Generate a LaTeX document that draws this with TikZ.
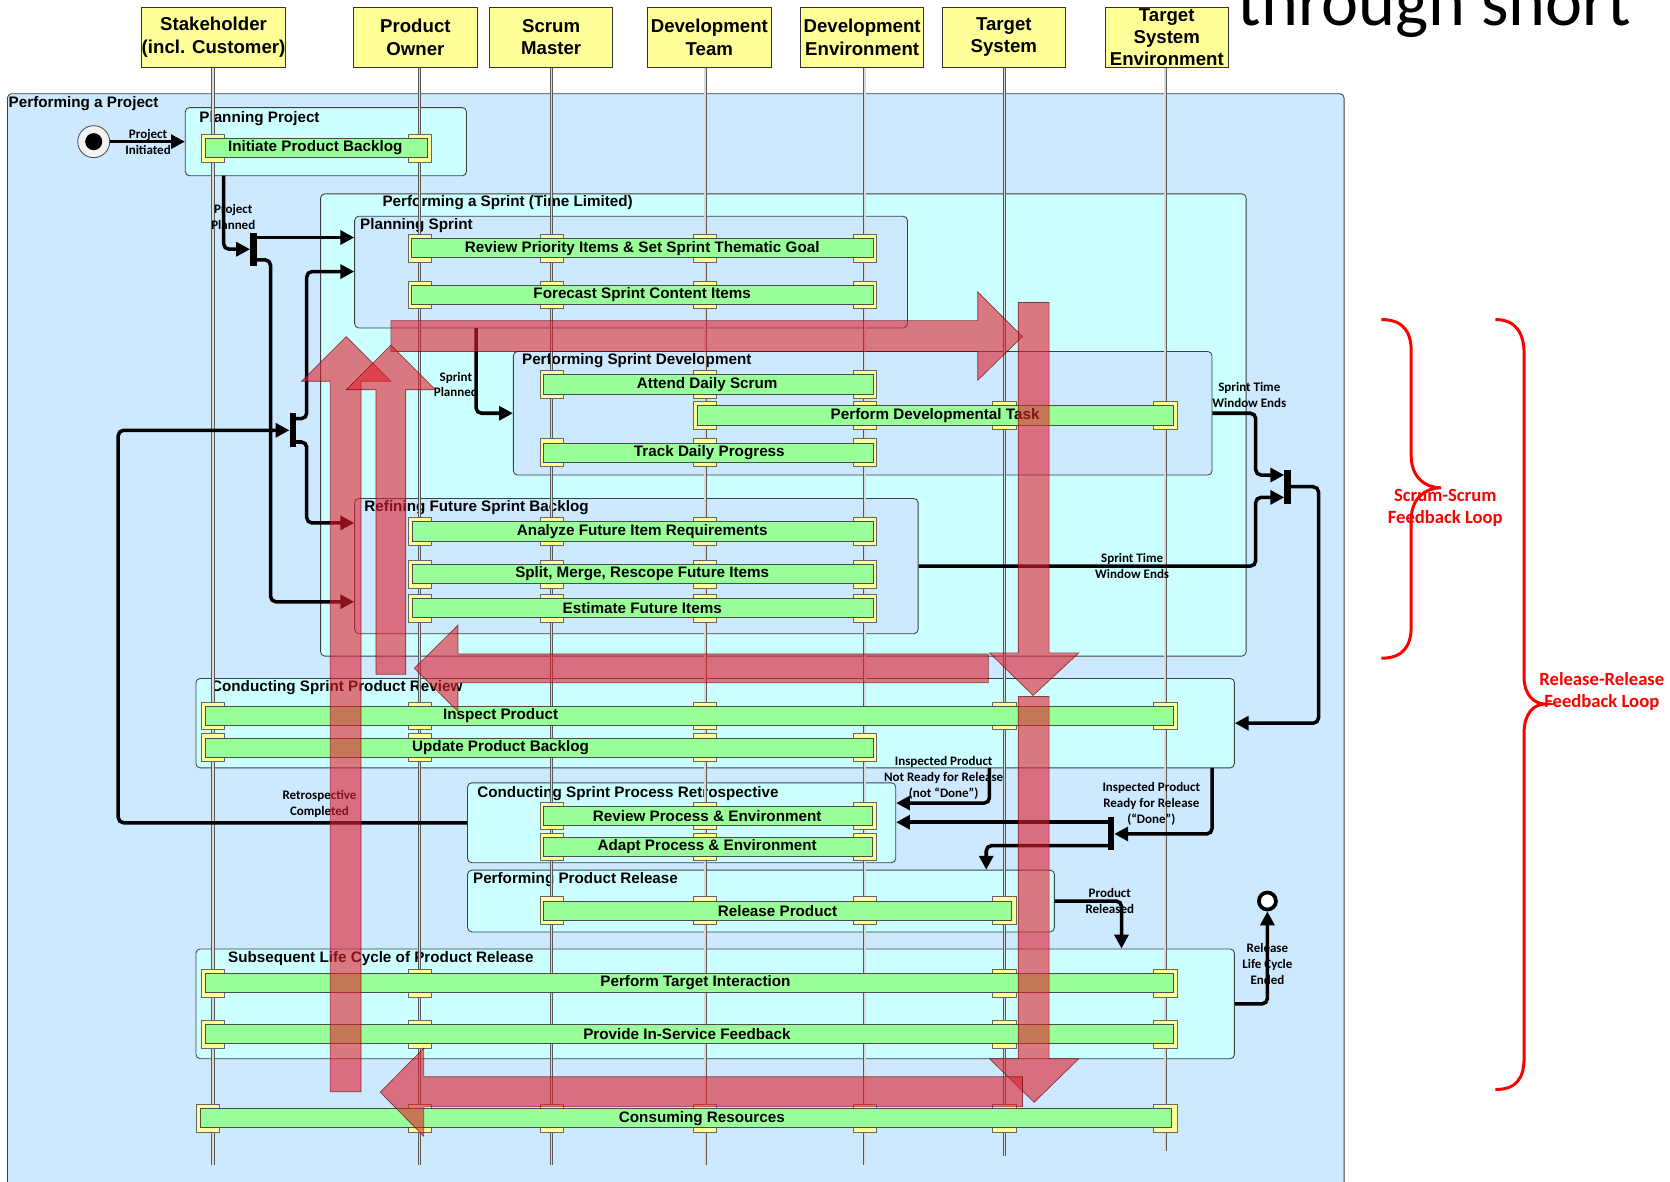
\documentclass[tikz,border=0pt]{standalone}
\usepackage{fontspec}
\setmainfont{Liberation Sans}
\newfontfamily\calib{Carlito}
\usetikzlibrary{arrows.meta,fit}

\definecolor{projblue}{RGB}{204,233,255}
\definecolor{phasecyan}{RGB}{204,255,255}
\definecolor{actgreen}{RGB}{153,255,153}
\definecolor{roleyellow}{RGB}{255,255,153}
\definecolor{loopred}{RGB}{225,30,45}

% one activity bar: name, y, lifelines touched, left x, right x, text x, text
\newcommand\actbar[7]{%
  \foreach \lx in {#3}{\draw[tab] ({\lx-11},{#2-13}) rectangle ({\lx+11},{#2+13});}%
  \draw[bar] (#4,{#2-9}) rectangle (#5,{#2+9});%
  \node[bartext] (#1) at (#6,#2) {#7};%
}

\begin{document}
\begin{tikzpicture}[x=1pt,y=-1pt,
  rolebox/.style={draw=black!80, fill=roleyellow, line width=0.9pt, inner sep=0pt},
  roletext/.style={align=center, inner sep=0pt, font=\bfseries\fontsize{17.5}{21}\selectfont},
  phase/.style={draw=black!75, line width=0.8pt, rounded corners=4pt, inner sep=0pt},
  phaselabel/.style={anchor=west, inner sep=0pt, font=\bfseries\fontsize{14.3}{17}\selectfont},
  life/.style={draw=black!65, line width=0.8pt, double=black!15, double distance=1.3pt},
  tab/.style={draw=black!60, fill=roleyellow, line width=0.7pt},
  bar/.style={draw=black!70, fill=actgreen, line width=0.8pt},
  bartext/.style={inner sep=0pt, font=\bfseries\fontsize{14.3}{17}\selectfont},
  flow/.style={line width=3.3pt, rounded corners=5pt, -{Triangle[length=13pt,width=13pt]}},
  forkbar/.style={fill=black, minimum width=6pt, inner sep=0pt, draw=none},
  note/.style={align=center, inner sep=0pt, font=\calib\bfseries\fontsize{12.2}{15}\selectfont},
  loop/.style={fill=loopred, fill opacity=0.6, draw=black!60!red, draw opacity=0.7, line width=0.6pt},
  brace/.style={draw=red, line width=2.8pt},
  bracetext/.style={align=center, inner sep=0pt, text=red, font=\calib\bfseries\fontsize{17.5}{21}\selectfont}
]
\clip (0,0) rectangle (1568,1109);
\fill[white] (0,0) rectangle (1568,1109);

% ---------- nested phases ----------
\node[phase, fill=projblue, fit={(7,88) (1262,1130)}] (proj) {};
\node[phase, fill=phasecyan, fit={(174,101) (438,165)}] (pp) {};
\node[phase, fill=phasecyan, fit={(301,182) (1170,616)}] (spr) {};
\node[phase, fill=projblue, fit={(333,203) (852,308)}] (ps) {};
\node[phase, fill=projblue, fit={(482,330) (1138,446)}] (psd) {};
\node[phase, fill=projblue, fit={(333,468) (862,595)}] (rf) {};
\node[phase, fill=phasecyan, fit={(184,637) (1159,721)}] (rv) {};
\node[phase, fill=phasecyan, fit={(439,735) (841,810)}] (rt) {};
\node[phase, fill=phasecyan, fit={(439,817) (990,875)}] (rl) {};
\node[phase, fill=phasecyan, fit={(184,891) (1159,994)}] (sl) {};

\node[phaselabel] (lproj) at (8,97) {Performing a Project};
\node[phaselabel] (lpp) at (187,111) {Planning Project};
\node[phaselabel] (lspr) at (359,190) {Performing a Sprint (Time Limited)};
\node[phaselabel] (lps) at (338,212) {Planning Sprint};
\node[phaselabel] (lpsd) at (490,339) {Performing Sprint Development};
\node[phaselabel] (lrf) at (342,477) {Refining Future Sprint Backlog};
\node[phaselabel] (lrv) at (198,646) {Conducting Sprint Product Review};
\node[phaselabel] (lrt) at (448,745) {Conducting Sprint Process Retrospective};
\node[phaselabel] (lrl) at (444,826) {Performing Product Release};
\node[phaselabel] (lsl) at (214,900) {Subsequent Life Cycle of Product Release};

% ---------- roles and lifelines ----------
\node[rolebox, fit={(132.5,7) (268.5,63)}] (hS) {};
\node[rolebox, fit={(332,7) (448,63)}] (hP) {};
\node[rolebox, fit={(460,7) (575,63)}] (hM) {};
\node[rolebox, fit={(608,7) (724,63)}] (hT) {};
\node[rolebox, fit={(752,7) (867,63)}] (hE) {};
\node[rolebox, fit={(885,7) (1000,63)}] (hY) {};
\node[rolebox, fit={(1038,7) (1153,63)}] (hZ) {};

\coordinate (lS) at (200,1094);
\coordinate (lP) at (394,1094);
\coordinate (lM) at (518,1094);
\coordinate (lT) at (662,1094);
\coordinate (lE) at (812,1094);
\coordinate (lY) at (943,1085);
\coordinate (lZ) at (1094,1081);
\foreach \l/\h in {lS/hS,lP/hP,lM/hM,lT/hT,lE/hE,lY/hY,lZ/hZ}
  \draw[life] (\h.south -| \l) -- (\l);

\node[roletext] (tS) at (hS) {Stakeholder\\(incl. Customer)};
\node[roletext] (tP) at (hP) {Product\\Owner};
\node[roletext] (tM) at (hM) {Scrum\\Master};
\node[roletext] (tT) at (hT) {Development\\Team};
\node[roletext] (tE) at (hE) {Development\\Environment};
\node[roletext] (tY) at (hY) {Target\\System};
\node[roletext] (tZ) at (hZ) {Target\\System\\Environment};

% ---------- activities ----------
\actbar{a1}{139}{200,394}{193}{401}{296}{Initiate Product Backlog}
\actbar{a2}{233}{394,518,662,812}{386}{820}{603}{Review Priority Items \& Set Sprint Thematic Goal}
\actbar{a3}{277}{394,518,662,812}{386}{820}{603}{Forecast Sprint Content Items}
\actbar{a4}{361}{518,662,812}{510}{820}{664}{Attend Daily Scrum}
\actbar{a5}{390}{662,812,943,1094}{655}{1102}{878}{Perform Developmental Task}
\actbar{a6}{425}{518,662,812}{510}{820}{666}{Track Daily Progress}
\actbar{a7}{499}{394,518,662,812}{387}{820}{603}{Analyze Future Item Requirements}
\actbar{a8}{539}{394,518,662,812}{387}{820}{603}{Split, Merge, Rescope Future Items}
\actbar{a9}{571}{394,518,662,812}{387}{820}{603}{Estimate Future Items}
\actbar{a10}{672}{200,394,662,943,1094}{193}{1102}{470}{Inspect Product}
\actbar{a11}{702}{200,394,662,812}{193}{820}{470}{Update Product Backlog}
\actbar{a12}{766}{518,662,812}{510}{819}{664}{Review Process \& Environment}
\actbar{a13}{795}{518,662,812}{510}{819}{664}{Adapt Process \& Environment}
\actbar{a14}{855}{518,662,812,943}{510}{950}{730}{Release Product}
\actbar{a15}{923}{200,394,943,1094}{193}{1102}{653}{Perform Target Interaction}
\actbar{a16}{971}{200,394,943,1094}{193}{1102}{645}{Provide In-Service Feedback}
\actbar{a17}{1050}{195,394,518,662,812,943,1094}{188}{1100}{659}{Consuming Resources}

% ---------- control flow ----------
\node[circle, draw=black!70, fill=black!5, line width=0.8pt, minimum size=30pt, inner sep=0pt] (st) at (88,133) {};
\fill (st.center) circle (8pt);
\draw[flow] (st.east) -- (pp.west);
\node[note] (nInit) at (139,133) {Project\\Initiated};

\node[forkbar, minimum height=31pt] (f1) at (238,234) {};
\node[forkbar, minimum height=32pt] (f2) at (275,404) {};
\node[forkbar, minimum height=32pt] (f3) at (1209,457) {};
\node[forkbar, minimum height=31pt] (f4) at (1043,783) {};

\coordinate (ppout) at (210,165);
\draw[flow] (ppout) |- (f1.west);
\node[note] (nPlan) at (219,204) {Project\\Planned};
\coordinate (f1a) at (238,223);
\draw[flow] (f1a) -- (f1a -| ps.west);
\coordinate (f1b) at (238,244);
\coordinate (f1c) at (254,565);
\draw[flow] (f1b) -| (f1c) -- (f1c -| rf.west);

\coordinate (rback) at (111,404);
\draw[flow] (rt.west) -| (rback) -- (f2.west);
\node[note] (nRetro) at (300,755) {Retrospective\\Completed};
\coordinate (f2a) at (275,393);
\coordinate (f2b) at (288,255);
\draw[flow] (f2a) -| (f2b) -- (f2b -| ps.west);
\coordinate (f2c) at (275,415);
\coordinate (f2d) at (288,491);
\draw[flow] (f2c) -| (f2d) -- (f2d -| rf.west);

\coordinate (psout) at (447,308);
\draw[flow] (psout) |- (psd.west);
\node[note] (nSpr) at (428,361) {Sprint\\Planned};

\coordinate (k3a) at (1179,446);
\draw[flow] (psd.east) -| (k3a) -- (k3a -| f3.west);
\coordinate (k3b) at (1179,467);
\draw[flow] (rf.east) -| (k3b) -- (k3b -| f3.west);
\node[note] (nEnd1) at (1173,371) {Sprint Time\\Window Ends};
\node[note] (nEnd2) at (1063,531) {Sprint Time\\Window Ends};
\coordinate (f3o) at (1209,457);
\coordinate (k3c) at (1238,679);
\draw[flow] (f3o) -| (k3c) -- (k3c -| rv.east);

\coordinate (nr0) at (929,721);
\coordinate (nr1) at (929,754);
\draw[flow] (nr0) -- (nr1) -- (nr1 -| rt.east);
\node[note] (nNot) at (886,730) {Inspected Product\\Not Ready for Release\\(not “Done”)};

\coordinate (rd0) at (1138,721);
\draw[flow] (rd0) |- (f4.east);
\node[note] (nDone) at (1081,755) {Inspected Product\\Ready for Release\\(“Done”)};
\coordinate (f4a) at (1043,772);
\draw[flow] (f4a) -- (f4a -| rt.east);
\coordinate (f4b) at (1043,794);
\coordinate (f4c) at (926,794);
\draw[flow] (f4b) -- (f4c) -- (f4c |- rl.north);

\coordinate (prk) at (1053,846);
\draw[flow] (rl.east) -- (prk) -- (prk |- sl.north);
\node[note] (nRel) at (1042,846) {Product\\Released};

\node[circle, draw=black, line width=3.5pt, fill=white, minimum size=16pt, inner sep=0pt] (en) at (1190,846) {};
\draw[flow] (sl.east) -| (en.south);
\node[note] (nLife) at (1190,905) {Release\\Life Cycle\\Ended};

% ---------- feedback loop arrows ----------
\filldraw[loop] (367,301) -- (918,301) -- (918,274) -- (960,316) -- (918,357) -- (918,330) -- (367,330) -- cycle;
\filldraw[loop] (956,284) -- (985,284) -- (985,613) -- (1013,613) -- (970,653) -- (929,613) -- (956,613) -- cycle;
\filldraw[loop] (928,614) -- (430,614) -- (430,587) -- (389,627.5) -- (430,668) -- (430,641) -- (928,641) -- cycle;
\filldraw[loop] (310,1025) -- (310,358) -- (283,358) -- (325,316) -- (367,358) -- (339,358) -- (339,1025) -- cycle;
\filldraw[loop] (353,633) -- (353,366) -- (325,366) -- (367,324) -- (409,366) -- (381,366) -- (381,633) -- cycle;
\filldraw[loop] (956,654) -- (985,654) -- (985,994) -- (1013,994) -- (971,1035) -- (929,994) -- (956,994) -- cycle;
\filldraw[loop] (960,1011) -- (398,1011) -- (398,984) -- (357,1025.5) -- (398,1067) -- (398,1039) -- (960,1039) -- cycle;

% ---------- loop braces ----------
\draw[brace] (1297,300) .. controls (1318,300) and (1325,312) .. (1325,330) -- (1325,428)
  .. controls (1325,448) and (1338,458) .. (1353,458)
  .. controls (1338,458) and (1325,468) .. (1325,488) -- (1325,588)
  .. controls (1325,606) and (1318,618) .. (1297,618);
\node[bracetext] (bScrum) at (1357,477) {Scrum-Scrum\\Feedback Loop};

\draw[brace] (1404,300) .. controls (1424,300) and (1431,314) .. (1431,332) -- (1431,636)
  .. controls (1431,652) and (1440,661) .. (1451,661)
  .. controls (1440,661) and (1431,670) .. (1431,688) -- (1431,993)
  .. controls (1431,1012) and (1424,1023) .. (1404,1023);
\node[bracetext] (bRel) at (1504,649) {Release-Release\\Feedback Loop};

\node[anchor=base west, inner sep=0pt, font=\calib\fontsize{66}{70}\selectfont] (ttl) at (1162,24) {through short};
\end{tikzpicture}
\end{document}
